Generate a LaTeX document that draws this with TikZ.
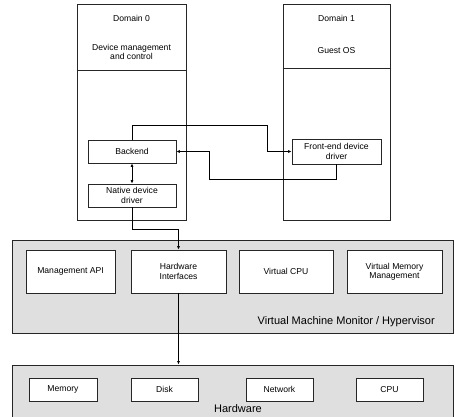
\documentclass[tikz,border=0pt]{standalone}
\usepackage{fontspec}
\setmainfont{Liberation Sans}
\usetikzlibrary{arrows.meta}
\begin{document}
\begin{tikzpicture}[x=1pt,y=-1pt,font=\fontsize{8.6}{9.4}\selectfont]
\tikzset{
  wbox/.style={draw=black!85, fill=white, line width=0.7pt, inner sep=0pt, align=center},
  panel/.style={draw=black!85, fill=gray!25, line width=0.9pt, inner sep=0pt},
  conn/.style={draw=black, line width=0.7pt},
  tip/.style={-{Latex[length=3.5pt,width=3pt]}},
  dtip/.style={{Latex[length=3.5pt,width=3pt]}-{Latex[length=3.5pt,width=3pt]}},
  biglabel/.style={font=\fontsize{11}{13}\selectfont, inner sep=0pt},
  plain/.style={inner sep=0pt, align=center}
}
\useasboundingbox (0,0) rectangle (455,417);
% Domains
\node[wbox, minimum width=109, minimum height=216] (d0) at (131.5,112) {};
\node[wbox, minimum width=107, minimum height=216] (d1) at (336.5,112) {};
\draw[draw=black!85, line width=0.7pt] (d0.west |- 0,70) -- (d0.east |- 0,70);
\draw[draw=black!85, line width=0.7pt] (d1.west |- 0,68) -- (d1.east |- 0,68);
\node[plain] (d0t) at (131.5,18) {Domain 0};
\node[plain] (d0s) at (131.5,52) {Device management\\and control};
\node[plain] (d1t) at (336.5,18) {Domain 1};
\node[plain] (d1s) at (336.5,51) {Guest OS};
% Inner domain boxes
\node[wbox, minimum width=88, minimum height=23] (be) at (132,151.5) {Backend};
\node[wbox, minimum width=88, minimum height=23] (nd) at (132,195.5) {Native device\\driver};
\node[wbox, minimum width=89, minimum height=25] (fe) at (336.5,151.5) {Front-end device\\driver};
% Hypervisor
\node[panel, minimum width=441, minimum height=93] (hv) at (232.5,286.5) {};
\node[wbox, minimum width=89, minimum height=43] (mapi) at (70.5,271.5) {Management API};
\node[wbox, minimum width=95, minimum height=43] (hi) at (178.5,271.5) {Hardware\\Interfaces};
\node[wbox, minimum width=94, minimum height=43] (vcpu) at (286,271.5) {Virtual CPU};
\node[wbox, minimum width=95, minimum height=43] (vmm) at (394.5,271.5) {Virtual Memory\\Management};
\node[biglabel, anchor=east] (hvl) at (435,322) {Virtual Machine Monitor / Hypervisor};
% Hardware
\node[panel, minimum width=441, minimum height=56] (hw) at (232.5,393) {};
\node[wbox, minimum width=68, minimum height=23] (mem) at (63,389.5) {Memory};
\node[wbox, minimum width=67, minimum height=23] (disk) at (164.5,389.5) {Disk};
\node[wbox, minimum width=67, minimum height=23] (net) at (279.5,389.5) {Network};
\node[wbox, minimum width=67, minimum height=23] (cpu) at (389.5,389.5) {CPU};
\node[biglabel] (hwl) at (238,409) {Hardware};
% Connectors
\draw[conn,tip] (be.north) |- (267,125) |- (fe.west);
\draw[conn,tip] (fe.south) |- (209,179) |- (be.east);
\draw[conn,dtip] (be.south) -- (nd.north);
\draw[conn,tip] (nd.south) -- (nd.south |- 0,229) -| (hi.north);
\draw[conn,tip] (hi.south) -- (hi.south |- hw.north);
\end{tikzpicture}
\end{document}
